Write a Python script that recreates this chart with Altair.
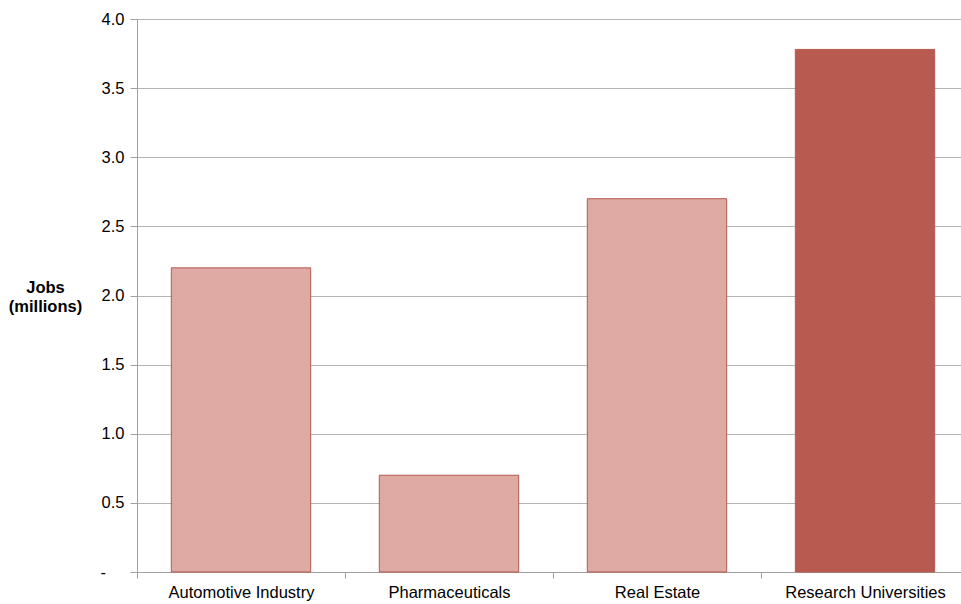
import altair as alt
import pandas as pd

categories = ["Automotive Industry", "Pharmaceuticals", "Real Estate", "Research Universities"]
jobs = [2.2, 0.7, 2.7, 3.78]
highlight = ["no", "no", "no", "yes"]

df = pd.DataFrame({"category": categories, "jobs": jobs, "highlight": highlight})

FONT = "Liberation Sans"

chart = alt.Chart(df).mark_bar(
    width=alt.RelativeBandSize(0.67), strokeWidth=1
).encode(
    x=alt.X("category:N", sort=categories, title=None,
            scale=alt.Scale(range=[0, 832], paddingInner=0, paddingOuter=0),
            axis=alt.Axis(labelAngle=0, tickBand="extent", tickSize=6, tickColor="#a0a0a0",
                          domainColor="#a0a0a0", labelFontSize=16.5, labelFont=FONT,
                          labelColor="#000000", labelPadding=6, grid=False)),
    y=alt.Y("jobs:Q", title=["Jobs", "(millions)"],
            scale=alt.Scale(domain=[0, 4], nice=False),
            axis=alt.Axis(values=[0, 0.5, 1, 1.5, 2, 2.5, 3, 3.5, 4],
                          labelExpr="datum.value == 0 ? '-\u2009\u2009\u2800' : format(datum.value, '.1f')",
                          tickSize=7, tickColor="#a0a0a0", domainColor="#a0a0a0",
                          gridColor="#b4b4b4", labelFontSize=16.5, labelFont=FONT,
                          labelColor="#000000", labelPadding=6,
                          titleAngle=0, titleAlign="center", titleBaseline="middle",
                          titleX=-92, titleY=268, titleLineHeight=19, titleFont=FONT,
                          titleFontSize=16.5, titleFontWeight="bold", titleColor="#000000")),
    color=alt.Color("highlight:N", scale=alt.Scale(domain=["no", "yes"], range=["#DFA9A4", "#B85A50"]), legend=None),
    stroke=alt.Stroke("highlight:N", scale=alt.Scale(domain=["no", "yes"], range=["#B5574F", "#B85A50"]), legend=None),
).properties(
    width=824, height=553,
    autosize=alt.AutoSizeParams(type="none"),
    padding={"left": 137, "top": 19, "right": 0, "bottom": 32},
).configure_view(stroke=None)

chart.save("out.html", embed_options={"renderer": "svg", "actions": False})
